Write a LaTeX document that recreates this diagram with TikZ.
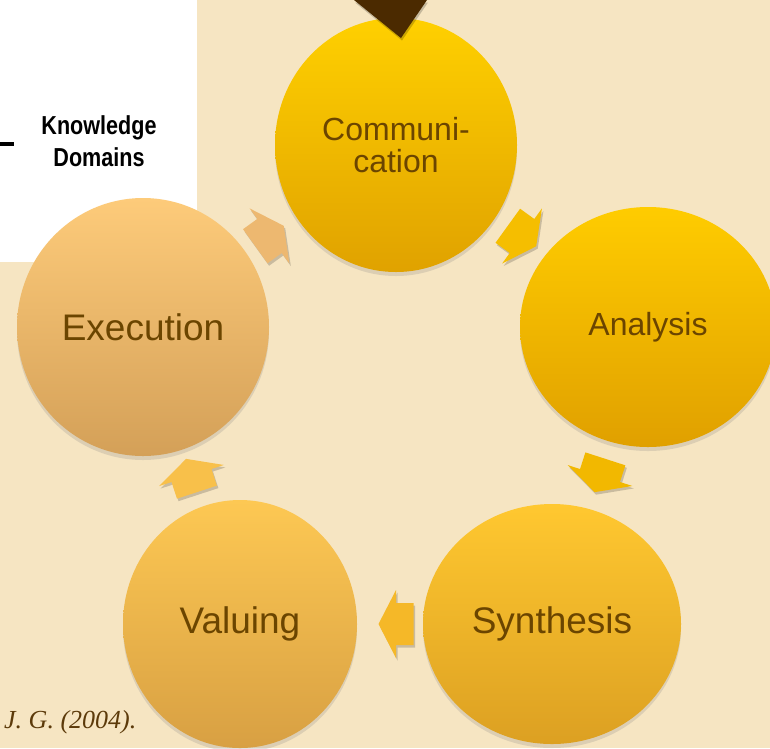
\documentclass[tikz,border=0pt]{standalone}
\usepackage{fontspec}
\setmainfont{Liberation Sans}
\newfontfamily\citefont{Liberation Serif}
\newfontfamily\kdfont[FakeStretch=0.83]{Liberation Sans}
\usetikzlibrary{shapes.geometric,shadows,calc}
\definecolor{parch}{HTML}{F6E5C2}
\definecolor{txtbrown}{HTML}{6B4500}
\definecolor{darkbrown}{HTML}{4B2A00}
\definecolor{citebrown}{HTML}{5C3A0A}
\tikzset{
  phase/.style={ellipse, inner sep=0pt, text=txtbrown, align=center,
    drop shadow={shadow xshift=0pt, shadow yshift=-4pt, opacity=0.22}},
  bigtext/.style={font=\fontsize{37}{40}\selectfont},
  smalltext/.style={font=\fontsize{32}{32}\selectfont},
  barrow/.pic={
    \fill[black, opacity=0.18, transform canvas={xshift=1.5pt,yshift=-2.5pt}]
      (-17.5,-21) -- (0,-21) -- (0,-34) -- (17.5,0) -- (0,34) -- (0,21) -- (-17.5,21) -- cycle;
    \path[pic actions]
      (-17.5,-21) -- (0,-21) -- (0,-34) -- (17.5,0) -- (0,34) -- (0,21) -- (-17.5,21) -- cycle;
  },
  cyclearrow/.style={sloped, allow upside down, pos=0.5}
}
\begin{document}
\begin{tikzpicture}[x=1pt,y=-1pt]
\useasboundingbox (0,0) rectangle (770,748);
\clip (0,0) rectangle (770,748);
\fill[parch] (0,0) rectangle (770,748);
\fill[white] (0,0) rectangle (197,262);
\draw[line width=3.5pt] (0,144) -- (14,144);
\node[font=\kdfont\bfseries\fontsize{26}{32}\selectfont, align=center, inner sep=0pt] (kd) at (99,141) {Knowledge\\Domains};

% phases
\node[phase, minimum width=242pt, minimum height=254pt, top color={rgb,255:red,255;green,208;blue,0}, bottom color={rgb,255:red,224;green,162;blue,0}, smalltext] (comm) at (396,145) {Communi-\\cation};
\node[phase, minimum width=256pt, minimum height=240pt, top color={rgb,255:red,255;green,204;blue,0}, bottom color={rgb,255:red,224;green,160;blue,0}, smalltext] (ana) at (648,327) {Analysis};
\node[phase, minimum width=258pt, minimum height=240pt, top color={rgb,255:red,255;green,200;blue,48}, bottom color={rgb,255:red,220;green,160;blue,34}, bigtext] (syn) at (552,624) {Synthesis};
\node[phase, minimum width=234pt, minimum height=248pt, top color={rgb,255:red,253;green,200;blue,83}, bottom color={rgb,255:red,216;green,160;blue,67}, bigtext] (val) at (240,624) {Valuing};
\node[phase, minimum width=252pt, minimum height=258pt, top color={rgb,255:red,253;green,203;blue,122}, bottom color={rgb,255:red,212;green,160;blue,88}, bigtext] (exe) at (143,327) {Execution};

% cycle arrows
\path (comm.center) -- pic[cyclearrow, fill={rgb,255:red,245;green,190;blue,0}] {barrow} (ana.center);
\path (ana.center) -- pic[cyclearrow, fill={rgb,255:red,242;green,184;blue,0}] {barrow} (syn.center);
\path (syn.center) -- pic[cyclearrow, fill={rgb,255:red,245;green,184;blue,40}] {barrow} (val.center);
\path (val.center) -- pic[cyclearrow, fill={rgb,255:red,248;green,192;blue,74}] {barrow} (exe.center);
\path (exe.center) -- pic[cyclearrow, fill={rgb,255:red,237;green,184;blue,112}] {barrow} (comm.center);

% incoming arrow at top
\fill[black, opacity=0.2, transform canvas={xshift=1pt,yshift=-2.5pt}] (354,0) -- (427,0) -- (401,38) -- cycle;
\fill[darkbrown] (354,0) -- (427,0) -- (401,38) -- cycle;

% citation
\node[anchor=base west, inner sep=0pt, text=citebrown, font=\citefont\itshape\fontsize{26}{30}\selectfont] (cite) at (4,728) {J. G. (2004).};
\end{tikzpicture}
\end{document}
